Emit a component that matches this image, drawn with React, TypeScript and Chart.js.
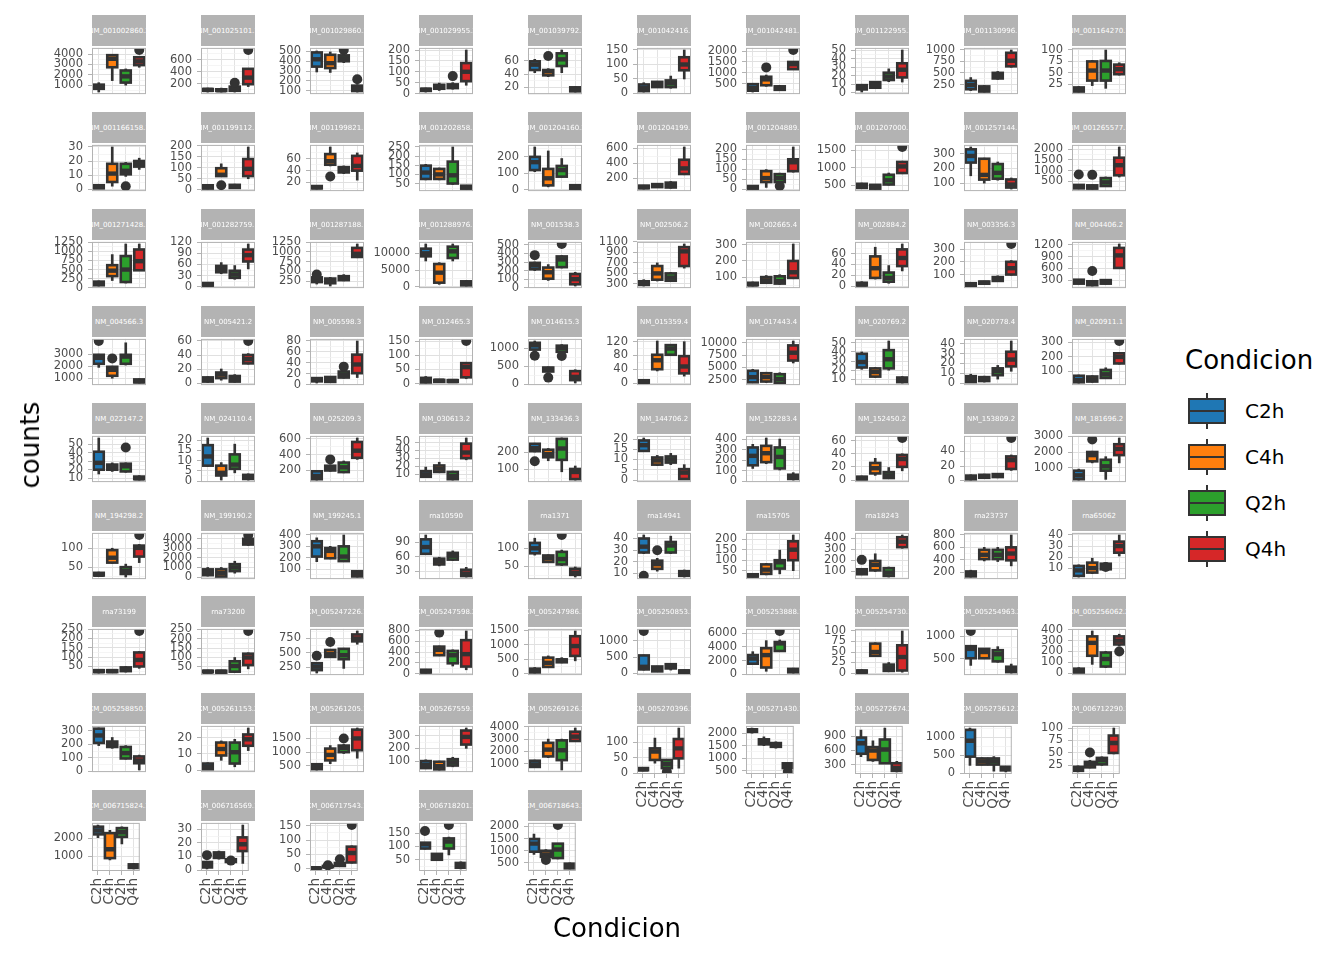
import React, { useEffect, useRef } from 'react';
import { Chart, registerables } from 'chart.js';

Chart.register(...registerables);

const FONT = 'DejaVu Sans';
const conditions = ['C2h', 'C4h', 'Q2h', 'Q4h'];
const conditionColors = ['#1F77B4', '#FF7F0E', '#2CA02C', '#D62728'];

const genes = [
  'NM_001002860.2', 'NM_001025101.1', 'NM_001029860.3', 'NM_001029955.2', 'NM_001039792.1', 'NM_001042416.1', 'NM_001042481.1', 'NM_001122955.3', 'NM_001130996.1', 'NM_001164270.1',
  'NM_001166158.1', 'NM_001199112.1', 'NM_001199821.1', 'NM_001202858.1', 'NM_001204160.2', 'NM_001204199.1', 'NM_001204889.1', 'NM_001207000.1', 'NM_001257144.1', 'NM_001265577.1',
  'NM_001271428.1', 'NM_001282759.1', 'NM_001287188.1', 'NM_001288976.1', 'NM_001538.3', 'NM_002506.2', 'NM_002665.4', 'NM_002884.2', 'NM_003356.3', 'NM_004406.2',
  'NM_004566.3', 'NM_005421.2', 'NM_005598.3', 'NM_012465.3', 'NM_014615.3', 'NM_015359.4', 'NM_017443.4', 'NM_020769.2', 'NM_020778.4', 'NM_020911.1',
  'NM_022147.2', 'NM_024110.4', 'NM_025209.3', 'NM_030613.2', 'NM_133436.3', 'NM_144706.2', 'NM_152283.4', 'NM_152450.2', 'NM_153809.2', 'NM_181696.2',
  'NM_194298.2', 'NM_199190.2', 'NM_199245.1', 'rna10590', 'rna1371', 'rna14941', 'rna15705', 'rna18243', 'rna23737', 'rna65062',
  'rna73199', 'rna73200', 'XM_005247226.1', 'XM_005247598.2', 'XM_005247986.1', 'XM_005250853.1', 'XM_005253888.1', 'XM_005254730.1', 'XM_005254963.2', 'XM_005256062.2',
  'XM_005258850.1', 'XM_005261153.2', 'XM_005261205.1', 'XM_005267559.1', 'XM_005269126.2', 'XM_005270396.1', 'XM_005271430.1', 'XM_005272674.2', 'XM_005273612.2', 'XM_006712290.1',
  'XM_006715824.1', 'XM_006716569.1', 'XM_006717543.1', 'XM_006718201.1', 'XM_006718643.1',
];

const yTicks = [
  [1000, 2000, 3000, 4000], [200, 400, 600], [100, 200, 300, 400, 500], [0, 50, 100, 150, 200], [20, 40, 60, 80], [0, 50, 100, 150], [500, 1000, 1500, 2000], [0, 10, 20, 30, 40, 50], [250, 500, 750, 1000], [25, 50, 75, 100],
  [0, 10, 20, 30], [0, 50, 100, 150, 200], [20, 40, 60], [50, 100, 150, 200, 250], [0, 100, 200], [200, 400, 600], [0, 50, 100, 150, 200], [500, 1000, 1500], [100, 200, 300], [500, 1000, 1500, 2000],
  [0, 250, 500, 750, 1000, 1250], [0, 30, 60, 90, 120], [250, 500, 750, 1000, 1250], [0, 5000, 10000], [0, 100, 200, 300, 400, 500], [300, 500, 700, 900, 1100], [100, 200, 300], [0, 20, 40, 60], [100, 200, 300], [300, 600, 900, 1200],
  [1000, 2000, 3000], [0, 20, 40, 60], [0, 20, 40, 60, 80], [0, 50, 100, 150], [0, 500, 1000], [0, 40, 80, 120], [2500, 5000, 7500, 10000], [10, 20, 30, 40, 50], [0, 10, 20, 30, 40], [100, 200, 300],
  [10, 20, 30, 40, 50], [0, 5, 10, 15, 20], [200, 400, 600], [10, 20, 30, 40, 50], [100, 200], [0, 5, 10, 15, 20], [0, 100, 200, 300, 400], [0, 20, 40, 60], [0, 20, 40], [1000, 2000, 3000],
  [50, 100], [0, 1000, 2000, 3000, 4000], [100, 200, 300, 400], [30, 60, 90], [50, 100], [10, 20, 30, 40], [50, 100, 150, 200], [100, 200, 300, 400], [200, 400, 600, 800], [10, 20, 30, 40],
  [50, 100, 150, 200, 250], [50, 100, 150, 200, 250], [250, 500, 750], [0, 200, 400, 600, 800], [0, 500, 1000, 1500], [0, 500, 1000], [0, 2000, 4000, 6000], [0, 25, 50, 75, 100], [500, 1000], [0, 100, 200, 300, 400],
  [0, 100, 200, 300], [0, 10, 20], [500, 1000, 1500], [100, 200, 300], [1000, 2000, 3000, 4000], [0, 50, 100], [500, 1000, 1500, 2000], [300, 600, 900], [0, 500, 1000], [25, 50, 75, 100],
  [1000, 2000], [0, 10, 20, 30], [0, 50, 100, 150], [50, 100, 150], [500, 1000, 1500, 2000],
];

// box statistics per gene: [lower whisker, Q1, median, Q3, upper whisker]
const c2h = [
  [340, 650, 850, 1050, 1240], [60, 80, 95, 110, 125], [290, 345, 420, 490, 505], [7, 12, 17, 22, 25], [42, 46, 54, 59, 62], [5, 8, 18, 31, 37], [120, 180, 300, 480, 520], [1, 4, 6, 9, 10], [120, 150, 240, 330, 400], [8, 9, 13, 18, 20],
  [0, 0.5, 1.5, 2.7, 3], [3, 5, 13, 20, 22], [9, 10, 12, 14, 15], [70, 75, 110, 148, 155], [110, 120, 168, 200, 260], [60, 70, 85, 105, 110], [0, 2, 8, 15, 18], [400, 420, 480, 540, 560], [150, 240, 285, 330, 346], [150, 170, 250, 330, 350],
  [50, 70, 120, 170, 190], [2, 3, 6, 10, 12], [180, 230, 300, 350, 370], [7700, 9100, 10000, 11400, 12800], [200, 215, 260, 290, 300], [260, 280, 320, 350, 380], [45, 50, 55, 65, 70], [0, 1, 3, 6, 8], [10, 12, 22, 32, 35], [200, 210, 260, 310, 320],
  [1900, 2200, 2700, 2950, 3000], [0, 2, 5, 8, 9], [3, 6, 9, 12, 13], [2, 4, 12, 20, 25], [940, 960, 1080, 1150, 1200], [0, 1, 3, 8, 10], [1900, 1950, 3000, 4300, 4600], [21, 23, 29, 38, 40], [0, 1, 4, 7, 9], [20, 25, 40, 70, 75],
  [15, 20, 28, 41, 57], [7, 7.5, 12, 17.5, 21], [80, 90, 130, 190, 200], [6, 7, 10, 14, 19], [200, 205, 222, 247, 250], [14, 14.2, 17, 19.3, 20.5], [120, 150, 240, 320, 350], [0, 1, 3, 5, 6], [1, 2, 4, 7, 8], [200, 250, 500, 800, 900],
  [25, 28, 30, 35, 37], [100, 190, 500, 800, 1000], [165, 210, 300, 345, 375], [65, 66, 80, 96, 105], [81, 86, 100, 115, 128], [27, 28, 33, 40, 43], [20, 22, 28, 33, 35], [70, 75, 100, 120, 125], [120, 130, 170, 210, 230], [2, 3, 8, 12, 13],
  [15, 20, 25, 30, 32], [20, 22, 25, 30, 33], [150, 200, 260, 320, 330], [10, 20, 40, 70, 80], [30, 50, 120, 180, 220], [100, 120, 200, 550, 560], [1500, 1550, 2300, 2800, 3300], [0, 1, 3, 6, 8], [350, 510, 720, 780, 800], [0, 5, 20, 40, 50],
  [190, 210, 265, 315, 320], [0, 0.5, 2, 4, 4.5], [350, 380, 450, 560, 580], [40, 45, 70, 100, 110], [700, 750, 950, 1250, 1300], [8, 10, 13, 17, 18], [2000, 2050, 2100, 2150, 2200], [470, 530, 750, 870, 1030], [220, 460, 900, 1200, 1250], [12, 14, 18, 22, 24],
  [2050, 2230, 2450, 2660, 2750], [1, 2, 4, 6, 6.5], [0, 1, 2, 4, 5], [90, 92, 108, 114, 115], [850, 960, 1290, 1480, 1680],
];
const c4h = [
  [1440, 2730, 3550, 3900, 3900], [60, 78, 90, 105, 125], [285, 330, 380, 466, 495], [14, 22, 30, 40, 48], [36, 38, 44, 46, 48], [20, 22, 30, 40, 42], [380, 430, 700, 820, 900], [5.5, 6, 9, 12.5, 13], [90, 100, 150, 210, 230], [22, 33, 55, 75, 77],
  [2, 5, 11, 18, 30], [60, 62, 68, 98, 118], [48, 50, 56, 68, 80], [70, 75, 100, 130, 135], [18, 27, 70, 127, 236], [80, 85, 110, 125, 135], [8, 35, 55, 90, 98], [390, 400, 450, 510, 520], [100, 124, 156, 266, 270], [140, 160, 230, 310, 330],
  [200, 320, 470, 620, 910], [35, 39, 48, 56, 65], [130, 200, 250, 320, 350], [700, 1200, 4200, 6800, 7200], [85, 105, 180, 235, 270], [355, 380, 500, 640, 700], [60, 65, 80, 100, 110], [13, 15, 33, 55, 72], [25, 28, 35, 45, 48], [150, 170, 220, 270, 290],
  [1000, 1200, 1700, 1950, 2000], [4, 7, 12, 15, 20], [4, 5, 9, 14, 15], [5, 6, 10, 13, 15], [330, 350, 420, 460, 480], [35, 40, 66, 82, 122], [1900, 2100, 3000, 3800, 4000], [12, 13, 18, 22, 23], [1, 2, 4, 6, 7], [25, 30, 45, 65, 70],
  [18, 20, 23, 26, 28], [0.5, 2.7, 4, 7.5, 9], [190, 200, 230, 260, 270], [12, 13, 17, 21, 25], [150, 170, 188, 213, 220], [7, 7.5, 9.5, 11, 12], [165, 180, 265, 335, 410], [7, 10, 18, 26, 33], [3, 4, 6, 8, 9], [1300, 1400, 1800, 2000, 2050],
  [60, 62, 75, 95, 100], [0, 50, 400, 800, 1000], [190, 195, 260, 285, 300], [41, 44, 50, 56, 59], [60, 62, 72, 80, 82], [12, 14, 18, 21, 23], [30, 35, 55, 80, 85], [100, 110, 160, 195, 260], [380, 410, 480, 560, 600], [5, 6, 10, 15, 19],
  [18, 20, 25, 30, 33], [18, 20, 25, 30, 33], [420, 430, 480, 550, 560], [330, 340, 440, 500, 510], [230, 240, 380, 560, 620], [50, 60, 150, 210, 220], [450, 1000, 2800, 3800, 4900], [40, 41, 50, 70, 72], [500, 510, 650, 720, 730], [80, 160, 280, 340, 390],
  [170, 180, 200, 220, 250], [6, 9, 13, 17, 18], [580, 700, 900, 1130, 1240], [30, 35, 60, 95, 100], [1500, 1600, 2150, 2700, 3000], [33, 43, 70, 80, 113], [1500, 1550, 1650, 1750, 1850], [370, 400, 600, 670, 800], [230, 240, 330, 410, 430], [20, 21, 28, 32, 35],
  [800, 900, 1400, 2300, 2450], [8, 9, 11, 13, 14], [5, 6, 8, 10, 12], [48, 50, 60, 72, 74], [700, 750, 850, 1000, 1050],
];
const q2h = [
  [1000, 1250, 1850, 2420, 2570], [60, 80, 110, 150, 170], [385, 400, 430, 460, 480], [20, 25, 33, 42, 50], [42, 52, 62, 71, 76], [18, 22, 35, 45, 60], [180, 220, 300, 380, 420], [13, 15, 19, 23.5, 28], [360, 380, 430, 500, 530], [16, 33, 55, 76, 100],
  [9, 10.5, 13, 18, 19], [5, 8, 15, 22, 25], [35, 37, 41, 46, 48], [45, 50, 95, 170, 250], [76, 80, 120, 145, 190], [70, 80, 110, 145, 160], [30, 35, 55, 75, 80], [500, 520, 640, 800, 850], [120, 130, 170, 230, 244], [250, 280, 450, 650, 700],
  [130, 160, 500, 870, 1200], [20, 24, 33, 43, 57], [260, 280, 320, 380, 420], [7700, 8600, 10600, 12000, 12800], [230, 240, 330, 365, 375], [350, 360, 420, 500, 520], [55, 60, 75, 105, 115], [5, 8, 15, 25, 38], [45, 50, 60, 80, 90], [200, 210, 250, 300, 310],
  [2100, 2200, 2800, 2950, 3950], [1, 2, 6, 10, 12], [12, 13, 18, 24, 28], [5, 6, 9, 12, 14], [880, 900, 1000, 1070, 1100], [80, 82, 100, 110, 112], [1800, 1850, 2600, 3600, 3900], [20, 22, 32, 42, 52], [4, 8, 12, 15, 18], [50, 55, 80, 110, 125],
  [17, 18, 24, 27, 28], [4, 6, 8, 13, 18], [170, 180, 240, 300, 320], [3, 4, 8, 13, 14], [87, 155, 220, 275, 280], [7.5, 8.5, 10, 11.5, 13], [105, 120, 230, 320, 400], [2, 3, 7, 12, 19], [4, 5, 7, 9, 10], [240, 800, 1080, 1500, 1700],
  [24, 32, 40, 50, 58], [400, 620, 1000, 1340, 1650], [165, 170, 210, 300, 400], [52, 54, 62, 68, 72], [52, 55, 70, 90, 95], [27, 28, 34, 37, 42], [35, 60, 90, 100, 148], [50, 60, 90, 130, 140], [370, 410, 480, 560, 600], [8, 9, 11, 14, 15],
  [20, 25, 35, 45, 50], [20, 25, 55, 80, 100], [230, 390, 460, 570, 580], [140, 190, 340, 420, 440], [380, 400, 460, 500, 560], [100, 150, 220, 280, 300], [3300, 3400, 4500, 4700, 5000], [3, 5, 12, 20, 25], [420, 440, 600, 690, 770], [50, 60, 130, 190, 200],
  [90, 95, 135, 180, 190], [2, 4, 11, 17, 19], [950, 1000, 1150, 1240, 1280], [55, 65, 90, 115, 130], [500, 1300, 2100, 2900, 3000], [15, 17, 30, 43, 45], [1400, 1450, 1550, 1600, 1650], [320, 330, 620, 830, 1070], [60, 240, 330, 410, 460], [25, 27, 35, 40, 42],
  [1700, 2090, 2350, 2580, 2650], [5.5, 6, 7, 8, 8.5], [8, 10, 15, 20, 22], [68, 92, 118, 130, 135], [670, 700, 1050, 1290, 1300],
];
const q4h = [
  [2730, 2940, 3300, 3700, 3700], [150, 190, 300, 446, 446], [85, 95, 120, 150, 160], [38, 57, 100, 140, 200], [13, 14, 17, 20, 21], [50, 80, 100, 125, 150], [1150, 1170, 1400, 1500, 1500], [12.6, 18, 27, 34.5, 50], [620, 640, 760, 930, 990], [45, 47, 58, 68, 72],
  [14, 16, 18, 20, 22], [50, 62, 95, 140, 195], [24, 40, 48, 65, 70], [20, 22, 30, 38, 40], [5, 7, 15, 28, 32], [250, 260, 335, 450, 620], [85, 90, 135, 150, 212], [830, 850, 1040, 1170, 1190], [60, 70, 90, 125, 135], [700, 780, 1250, 1600, 2100],
  [470, 480, 730, 1050, 1200], [48, 68, 85, 100, 115], [850, 870, 950, 1100, 1200], [200, 400, 1000, 1600, 1800], [20, 40, 100, 160, 180], [600, 640, 920, 1000, 1060], [90, 95, 130, 200, 305], [28, 37, 52, 68, 78], [95, 100, 150, 200, 210], [600, 610, 930, 1120, 1220],
  [600, 650, 750, 900, 950], [27, 28, 34, 40, 42], [13, 21, 37, 55, 80], [17, 22, 58, 72, 75], [30, 110, 200, 360, 400], [20, 28, 48, 78, 120], [5900, 6400, 8000, 9500, 10400], [6, 7, 9, 12, 13], [12, 17, 24, 32, 43], [150, 155, 200, 225, 230],
  [8, 9, 10, 12, 13], [0.5, 1, 2, 3, 3.5], [340, 360, 450, 560, 610], [28, 30, 37, 48, 55], [40, 45, 86, 103, 120], [0, 0.5, 3.6, 5.3, 7.5], [10, 20, 40, 60, 80], [14, 20, 32, 38, 40], [14, 16, 28, 33, 35], [1300, 1800, 2200, 2500, 2900],
  [62, 78, 101, 107, 110], [3300, 3400, 3700, 4000, 4050], [30, 35, 60, 80, 85], [18, 20, 25, 33, 38], [20, 26, 32, 43, 48], [7, 8, 10, 12, 13], [50, 100, 150, 190, 220], [310, 320, 370, 410, 430], [300, 390, 500, 600, 800], [21, 24, 30, 34, 40],
  [40, 50, 85, 125, 130], [40, 60, 100, 120, 125], [650, 700, 750, 820, 880], [70, 130, 360, 620, 790], [450, 620, 960, 1300, 1480], [10, 20, 50, 90, 100], [200, 300, 600, 800, 900], [2, 6, 38, 66, 100], [180, 200, 260, 320, 380], [250, 265, 300, 340, 360],
  [10, 60, 80, 110, 120], [12, 15, 19, 22, 26], [780, 1070, 1500, 1820, 1880], [200, 230, 290, 340, 360], [2800, 2850, 3200, 3600, 3900], [17, 48, 80, 110, 145], [550, 600, 700, 790, 800], [150, 170, 230, 330, 370], [40, 80, 120, 180, 190], [48, 50, 70, 85, 100],
  [300, 350, 450, 550, 600], [5, 14, 19, 24, 33], [20, 22, 55, 77, 80], [16, 20, 28, 38, 42], [260, 280, 350, 470, 500],
];

// outliers per gene: [condition index, value]
const outliers = [
  [[3, 4400]], [[2, 215], [3, 760]], [[2, 515], [3, 215]], [[2, 80]], [[1, 67]], [], [[1, 1250], [3, 2050]], [], [], [],
  [[2, 2]], [[1, 20]], [[1, 30]], [], [], [], [[2, 15]], [[3, 1600]], [], [[0, 820], [1, 800]],
  [], [], [[0, 420]], [], [[0, 380], [2, 510]], [], [], [], [[3, 340]], [[1, 530]],
  [[0, 4100], [1, 2650]], [[3, 60]], [[2, 33]], [[3, 150]], [[0, 790], [1, 180], [2, 780]], [], [], [], [], [[3, 310]],
  [[2, 46]], [], [[1, 340]], [], [[0, 147]], [], [], [[3, 64]], [[3, 58]], [[1, 2800]],
  [[3, 135]], [[3, 4400]], [], [], [[2, 137]], [[0, 8], [1, 30]], [], [[0, 205]], [], [[2, 11]],
  [[3, 240]], [[3, 240]], [[0, 450], [1, 690]], [[1, 760]], [], [[0, 1300]], [[2, 6300]], [], [[0, 1120]], [[3, 200]],
  [], [], [[2, 1500]], [], [], [[2, 5]], [[3, 450]], [], [], [[1, 51]],
  [], [[0, 11], [2, 7]], [[1, 12], [2, 33], [3, 152]], [[0, 158], [2, 180]], [[1, 620], [2, 2050]],
];

const DARK = '#333333';
const PANEL_W = 54;
const PANEL_H = 50;
const STRIP_H = 31;
const AXIS_W = 60;

function Panel({ idx }: { idx: number }) {
  const ref = useRef<HTMLCanvasElement>(null);
  const col = idx % 10;
  const row = Math.floor(idx / 10);
  const bottom = idx >= 75;
  const x0 = Math.round(92.3 + col * 108.9);
  const stripTop = Math.round(15 + row * 96.9);
  const plotTop = stripTop + STRIP_H;
  const padTop = 10;
  const padBottom = 10;
  const xAxisH = bottom ? 42 : 0;
  const W = AXIS_W + PANEL_W + 8;
  const H = padTop + PANEL_H + xAxisH + padBottom;

  useEffect(() => {
    const groups = [c2h[idx], c4h[idx], q2h[idx], q4h[idx]];
    const outs = outliers[idx];
    const majors = yTicks[idx];
    const all = ([] as number[]).concat(...groups, outs.map((o) => o[1]));
    const lo = Math.min(...all);
    const hi = Math.max(...all);
    const pad = (hi - lo) * 0.05;
    const ymin = lo - pad;
    const ymax = hi + pad;
    const step = majors.length > 1 ? majors[1] - majors[0] : majors[0];
    const tickVals: number[] = [];
    for (let v = majors[0] - step / 2; v <= majors[majors.length - 1] + step / 2 + 1e-9; v += step / 2) {
      if (v >= ymin && v <= ymax) tickVals.push(v);
    }
    const isMajor = (v: number) => majors.some((m) => Math.abs(m - v) < step * 1e-6);

    const boxPlugin = {
      id: 'boxOutline',
      afterDatasetDraw(chart: any, args: any) {
        if (args.index !== 1) return;
        const { ctx, chartArea } = chart;
        const yScale = chart.scales.y;
        ctx.save();
        ctx.beginPath();
        ctx.rect(chartArea.left, chartArea.top, chartArea.right - chartArea.left, chartArea.bottom - chartArea.top);
        ctx.clip();
        ctx.strokeStyle = DARK;
        args.meta.data.forEach((el: any, i: number) => {
          const p = el.getProps(['x', 'y', 'base', 'width'], true);
          const top = Math.min(p.y, p.base);
          const bot = Math.max(p.y, p.base);
          ctx.lineWidth = 2.6;
          ctx.strokeRect(p.x - p.width / 2, top, p.width, bot - top);
          const my = yScale.getPixelForValue(groups[i][2]);
          ctx.lineWidth = 4.4;
          ctx.beginPath();
          ctx.moveTo(p.x - p.width / 2, my);
          ctx.lineTo(p.x + p.width / 2, my);
          ctx.stroke();
        });
        ctx.restore();
      },
      afterDraw(chart: any) {
        const { ctx, chartArea } = chart;
        ctx.save();
        ctx.strokeStyle = '#B3B3B3';
        ctx.lineWidth = 1;
        ctx.strokeRect(chartArea.left + 0.5, chartArea.top + 0.5, chartArea.right - chartArea.left - 1, chartArea.bottom - chartArea.top - 1);
        ctx.restore();
      },
    };

    const chart = new Chart(ref.current as HTMLCanvasElement, {
      type: 'bar',
      data: {
        labels: conditions,
        datasets: [
          {
            type: 'line',
            label: 'outliers',
            data: outs.map((o) => ({ x: conditions[o[0]], y: o[1] })) as any,
            showLine: false,
            pointRadius: 5,
            pointBackgroundColor: DARK,
            pointBorderWidth: 0,
            order: 1,
            clip: 0,
          } as any,
          {
            type: 'bar',
            label: 'box',
            data: groups.map((g) => [g[1], g[3]]) as any,
            backgroundColor: conditionColors,
            borderWidth: 0,
            barThickness: 10,
            grouped: false,
            order: 2,
            clip: 0,
          } as any,
          {
            type: 'bar',
            label: 'whisker',
            data: groups.map((g) => [g[0], g[4]]) as any,
            backgroundColor: DARK,
            borderWidth: 0,
            barThickness: 2,
            grouped: false,
            order: 3,
            clip: 0,
          } as any,
        ],
      },
      options: {
        animation: false,
        responsive: false,
        events: [],
        layout: { padding: { top: padTop, bottom: padBottom, left: 0, right: 8 } },
        plugins: { legend: { display: false }, tooltip: { enabled: false } },
        scales: {
          x: {
            type: 'category',
            offset: true,
            grid: { offset: false, color: '#E3E3E3', lineWidth: 1, drawTicks: bottom, tickLength: 4, tickColor: '#B3B3B3' },
            border: { display: false },
            ticks: { display: bottom, minRotation: 90, maxRotation: 90, autoSkip: false, padding: 3, color: '#4D4D4D', font: { family: FONT, size: 13.5 } },
            afterFit: (s: any) => { s.height = xAxisH; },
          },
          y: {
            type: 'linear',
            min: ymin,
            max: ymax,
            afterBuildTicks: (s: any) => { s.ticks = tickVals.map((v) => ({ value: v })); },
            grid: {
              color: (c: any) => (isMajor(c.tick.value) ? '#E0E0E0' : '#F0F0F0'),
              lineWidth: (c: any) => (isMajor(c.tick.value) ? 1 : 0.7),
              drawTicks: true,
              tickLength: 4,
              tickColor: (c: any) => (isMajor(c.tick.value) ? '#B3B3B3' : 'rgba(0,0,0,0)'),
            },
            border: { display: false },
            ticks: {
              autoSkip: false,
              padding: 5,
              color: '#4D4D4D',
              font: { family: FONT, size: 11.5 },
              callback: (v: any) => (isMajor(Number(v)) ? String(Math.round(Number(v) * 1000) / 1000) : ''),
            },
            afterFit: (s: any) => { s.width = AXIS_W; },
          },
        },
      } as any,
      plugins: [boxPlugin],
    });
    return () => chart.destroy();
  }, [idx]);

  return (
    <>
      <div
        style={{
          position: 'absolute', left: x0, top: stripTop, width: PANEL_W, height: STRIP_H,
          background: '#B3B3B3', color: '#FFFFFF', fontFamily: FONT, fontSize: 7,
          display: 'flex', alignItems: 'center', justifyContent: 'center', overflow: 'hidden', whiteSpace: 'nowrap',
        }}
      >
        <span>{genes[idx]}</span>
      </div>
      <canvas
        ref={ref}
        width={W}
        height={H}
        style={{ position: 'absolute', left: x0 - AXIS_W, top: plotTop - padTop, width: W, height: H }}
      />
    </>
  );
}

function LegendKey({ i }: { i: number }) {
  const cy = 411 + i * 46;
  return (
    <>
      <div style={{ position: 'absolute', left: 1206, top: cy - 18, width: 2, height: 36, background: DARK }} />
      <div style={{ position: 'absolute', left: 1188, top: cy - 13, width: 38, height: 26, boxSizing: 'border-box', border: `2.4px solid ${DARK}`, background: conditionColors[i] }} />
      <div style={{ position: 'absolute', left: 1188, top: cy - 1.2, width: 38, height: 2.4, background: DARK }} />
      <div style={{ position: 'absolute', left: 1245, top: cy - 13, height: 26, lineHeight: '26px', fontFamily: FONT, fontSize: 20, color: '#000' }}>
        {conditions[i]}
      </div>
    </>
  );
}

export default function App() {
  return (
    <div style={{ position: 'absolute', left: 0, top: 0, width: 1344, height: 960, background: '#FFFFFF', overflow: 'hidden' }}>
      {genes.map((_, i) => (
        <Panel key={i} idx={i} />
      ))}
      <div
        style={{
          position: 'absolute', left: 30, top: 445, transform: 'translate(-50%, -50%) rotate(-90deg)',
          fontFamily: FONT, fontSize: 26, color: '#000', whiteSpace: 'nowrap',
        }}
      >
        counts
      </div>
      <div
        style={{
          position: 'absolute', left: 617, top: 928, transform: 'translate(-50%, -50%)',
          fontFamily: FONT, fontSize: 26, color: '#000', whiteSpace: 'nowrap',
        }}
      >
        Condicion
      </div>
      <div style={{ position: 'absolute', left: 1185, top: 343, fontFamily: FONT, fontSize: 26, color: '#000', whiteSpace: 'nowrap', lineHeight: '34px' }}>
        Condicion
      </div>
      {conditions.map((_, i) => (
        <LegendKey key={i} i={i} />
      ))}
    </div>
  );
}
